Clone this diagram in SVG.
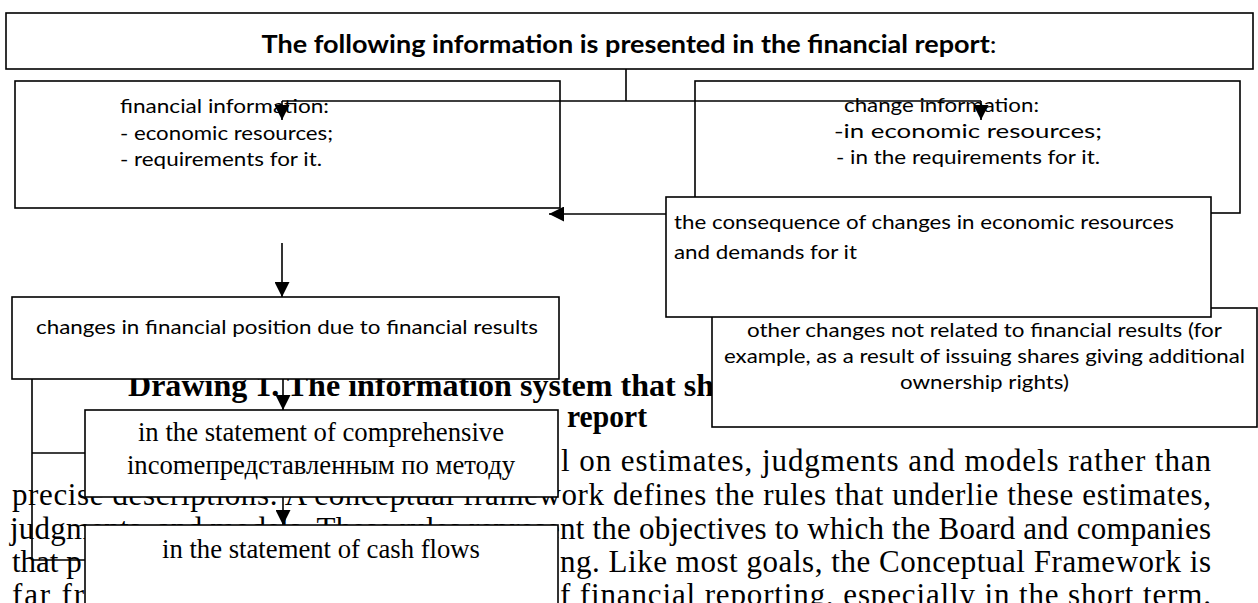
<svg xmlns="http://www.w3.org/2000/svg" width="1258" height="603" viewBox="0 0 1258 603">
  <style>
    .box { fill: #ffffff; stroke: #000000; stroke-width: 1.6; }
    .lbl { font-family: Lato, "Open Sans", "Liberation Sans", sans-serif; font-size: 20px; fill: #000000; }
    .ser { font-family: "Liberation Serif", "Times New Roman", serif; font-size: 26.7px; fill: #000000; }
    .body { font-family: "Liberation Serif", "Times New Roman", serif; font-size: 31px; fill: #000000; }
    .cap { font-family: "Liberation Serif", "Times New Roman", serif; font-size: 32px; font-weight: bold; fill: #000000; }
    .wire { fill: none; stroke: #000000; stroke-width: 1.6; }
  </style>
  <defs>
    <marker id="head" viewBox="0 0 10 10" refX="10" refY="5" markerWidth="15" markerHeight="15" markerUnits="userSpaceOnUse" orient="auto">
      <path d="M0,0 L10,5 L0,10 Z" fill="#000000"/>
    </marker>
  </defs>
  <rect width="1258" height="603" fill="#ffffff"/>

  <!-- page text running behind the chart -->
  <g id="page-text">
    <text class="cap" x="128" y="396" textLength="586" lengthAdjust="spacingAndGlyphs">Drawing 1. The information system that sh</text>
    <text class="cap" x="567" y="427" textLength="80" lengthAdjust="spacingAndGlyphs">report</text>
    <text class="body" x="561" y="471" textLength="650" lengthAdjust="spacing">l on estimates, judgments and models rather than</text>
    <text class="body" x="12" y="505" textLength="1199" lengthAdjust="spacing">precise descriptions. A conceptual framework defines the rules that underlie these estimates,</text>
    <text class="body" x="10" y="539" textLength="1201" lengthAdjust="spacing">judgments, and models. These rules represent the objectives to which the Board and companies</text>
    <text class="body" x="12" y="572">that p</text>
    <text class="body" x="560" y="572" textLength="651" lengthAdjust="spacing">ng. Like most goals, the Conceptual Framework is</text>
    <text class="body" x="12" y="605" textLength="72" lengthAdjust="spacing">far fr</text>
    <text class="body" x="560" y="605" textLength="651" lengthAdjust="spacing">f financial reporting, especially in the short term.</text>
  </g>

  <g id="node-report">
    <rect class="box" x="6" y="13" width="1247" height="56"/>
    <text x="629" y="53" text-anchor="middle" textLength="735" lengthAdjust="spacingAndGlyphs" style="font-family: Lato, 'Open Sans', 'Liberation Sans', sans-serif; font-size: 24px;"><tspan font-weight="bold">The following information is presented in the financial report</tspan>:</text>
  </g>

  <g id="node-financial">
    <rect class="box" x="15" y="81" width="545" height="127"/>
    <text class="lbl" x="120" y="113" textLength="209" lengthAdjust="spacingAndGlyphs">financial information:</text>
    <text class="lbl" x="120" y="140" textLength="213" lengthAdjust="spacingAndGlyphs">- economic resources;</text>
    <text class="lbl" x="120" y="166" textLength="202" lengthAdjust="spacingAndGlyphs">- requirements for it.</text>
  </g>

  <g id="node-change">
    <rect class="box" x="695" y="81" width="545" height="132"/>
    <text class="lbl" x="844" y="112" textLength="195" lengthAdjust="spacingAndGlyphs">change information:</text>
    <text class="lbl" x="834" y="138" textLength="268" lengthAdjust="spacingAndGlyphs">-in economic resources;</text>
    <text class="lbl" x="836" y="164" textLength="264" lengthAdjust="spacingAndGlyphs">- in the requirements for it.</text>
  </g>

  <g id="node-other">
    <rect class="box" x="712" y="308" width="545" height="119"/>
    <text class="lbl" x="747" y="337" textLength="475" lengthAdjust="spacingAndGlyphs">other changes not related to financial results (for</text>
    <text class="lbl" x="724" y="363" textLength="521" lengthAdjust="spacingAndGlyphs">example, as a result of issuing shares giving additional</text>
    <text class="lbl" x="900" y="389" textLength="169" lengthAdjust="spacingAndGlyphs">ownership rights)</text>
  </g>

  <g id="node-consequence">
    <rect class="box" x="666" y="197" width="545" height="120"/>
    <text class="lbl" x="674" y="229" textLength="500" lengthAdjust="spacingAndGlyphs">the consequence of changes in economic resources</text>
    <text class="lbl" x="674" y="259" textLength="183" lengthAdjust="spacingAndGlyphs">and demands for it</text>
  </g>

  <g id="node-position">
    <rect class="box" x="12" y="297" width="547" height="82"/>
    <text class="lbl" x="36" y="334" textLength="502" lengthAdjust="spacingAndGlyphs">changes in financial position due to financial results</text>
  </g>

  <g id="node-income">
    <rect class="box" x="85" y="410" width="473" height="87"/>
    <text class="ser" x="321" y="441" text-anchor="middle">in the statement of comprehensive</text>
    <text class="ser" x="321" y="474" text-anchor="middle">incomeпредставленным по методу</text>
  </g>

  <g id="node-cash">
    <rect class="box" x="85" y="525" width="473" height="90"/>
    <text class="ser" x="321" y="558" text-anchor="middle">in the statement of cash flows</text>
  </g>

  <g id="connectors">
    <path class="wire" d="M626,69 V101 M282,101 H981"/>
    <path class="wire" d="M282,101 V120" marker-end="url(#head)"/>
    <path class="wire" d="M981,101 V120" marker-end="url(#head)"/>
    <path class="wire" d="M666,214 H549" marker-end="url(#head)"/>
    <path class="wire" d="M282,243 V297" marker-end="url(#head)"/>
    <path class="wire" d="M283,379 V410" marker-end="url(#head)"/>
    <path class="wire" d="M283,497 V525" marker-end="url(#head)"/>
    <path class="wire" d="M32,379 V560 M32,453 H85 M32,560 H85"/>
  </g>
</svg>
